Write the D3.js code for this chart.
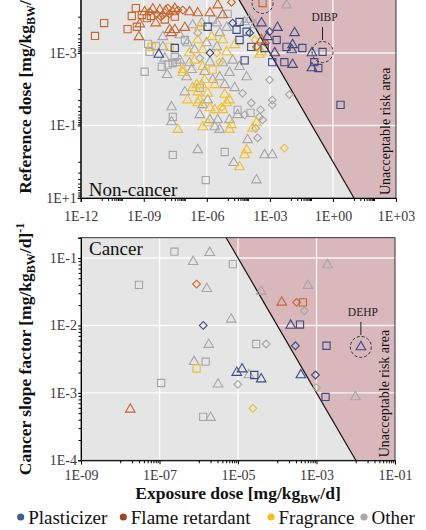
<!DOCTYPE html>
<html>
<head>
<meta charset="utf-8">
<script src="https://cdn.jsdelivr.net/npm/d3@7"></script>
<style>
  body { margin:0; background:#fff; }
  svg text { font-family:"Liberation Serif","Times New Roman",serif; }
  .tick text { fill:#3a3a3a; font-size:14px; }
  .axis path, .axis line { stroke:#000; }
</style>
</head>
<body>
<svg id="chart" width="426" height="530" font-family="Liberation Serif, Times New Roman, serif"></svg>
<script>
// ---- data ----
var groups = ["Plasticizer", "Flame retardant", "Fragrance", "Other"];

// non-cancer panel: [exposure dose, reference dose, marker]
var ncPlasticizer = [[5.2e-9,1.1e-3,"t"],[3.0e-8,7.3e-4,"s"],[1.1e-6,1.9e-4,"s"],[1.7e-5,1.5e-4,"d"],[3.6e-5,1.4e-4,"s"],
  [3.6e-5,4.4e-4,"s"],[1.1e-4,2.8e-4,"d"],[2.6e-5,2.3e-4,"s"],[7.8e-5,2.6e-4,"s"],[1.3e-4,6.8e-4,"s"],[6.3e-5,1.6e-3,"s"],
  [1.4e-6,1.0e-3,"d"],[4.0e-4,1.5e-4,"t"],[9.6e-4,2.6e-4,"d"],[2.3e-3,2.0e-4,"t"],[1.5e-2,2.8e-4,"t"],[2.1e-3,4.4e-4,"s"],
  [6.2e-3,6.8e-4,"s"],[1.1e-2,8.3e-4,"t"],[1.2e-2,6.0e-4,"t"],[3.5e-2,7.3e-4,"s"],[1.7e-3,1.0e-3,"t"],[1.3e-3,1.8e-3,"s"],
  [4.9e-3,1.8e-3,"s"],[1.2e-2,2.1e-3,"t"],[1.0e-1,1.0e-3,"t"],[1.3e-1,1.8e-3,"s"],[1.0e-1,2.6e-3,"t"],[2.0e-1,2.6e-3,"s"],
  [3.2e-1,9.4e-4,"s"],[2.3,2.7e-2,"s"],[5.6e-4,7.3e-4,"s"],[7.7e-4,3.6e-4,"t"]];
var ncFlame = [[4.8e-12,3.4e-4,"s"],[1.3e-11,1.5e-4,"s"],[1.7e-10,2.2e-4,"s"],[4.2e-10,5.8e-5,"s"],[2.7e-10,9.6e-5,"s"],
  [8.1e-10,9.0e-5,"s"],[4.7e-10,1.9e-4,"s"],[5.9e-10,3.6e-4,"t"],[1.1e-9,7.4e-5,"t"],[1.9e-9,7.4e-5,"d"],[2.7e-9,6.2e-5,"t"],
  [4.2e-9,8.4e-5,"d"],[5.8e-9,6.6e-5,"t"],[8.1e-9,9.0e-5,"d"],[1.1e-8,7.0e-5,"t"],[1.7e-8,8.4e-5,"d"],[2.4e-8,7.4e-5,"t"],
  [3.0e-8,1.0e-4,"s"],[4.2e-8,6.6e-5,"d"],[1.4e-8,5.8e-5,"d"],[3.7e-9,1.5e-4,"t"],[1.7e-8,2.3e-4,"t"],[7.2e-8,6.6e-5,"d"],
  [1.5e-7,7.4e-5,"t"],[3.7e-7,7.9e-5,"t"],[1.4e-6,7.9e-5,"t"],[3.3e-6,4.8e-5,"t"],[5.7e-6,9.0e-5,"t"],[1.5e-5,4.0e-5,"d"],
  [3.0e-8,2.3e-4,"t"],[9.0e-8,2.0e-4,"t"],[2.1e-8,2.8e-4,"t"],[4.0e-4,4.4e-4,"t"],[6.2e-4,5.3e-4,"d"],[4.5e-4,4.2e-5,"s"],
  [2.3e-4,6.8e-4,"d"],[1.4e-9,1.1e-4,"s"],[6.5e-10,1.6e-4,"t"],[1.0e-8,1.2e-4,"s"],[2.2e-9,9.6e-5,"s"],[6.5e-9,1.0e-4,"d"],
  [3.0e-8,6.0e-5,"t"]];
var ncFragrance = [[2.4e-9,6.8e-4,"s"],[1.7e-8,6.8e-4,"s"],[4.6e-7,1.9e-4,"t"],[3.7e-7,4.4e-4,"t"],[1.7e-6,3.6e-4,"t"],
  [5.7e-6,4.4e-4,"t"],[6.4e-7,8.3e-4,"t"],[1.5e-7,1.0e-3,"t"],[3.0e-6,1.0e-3,"d"],[8.8e-6,9.4e-4,"t"],[7.2e-8,2.9e-3,"t"],
  [1.9e-6,2.9e-3,"s"],[6.4e-7,2.4e-3,"t"],[2.6e-4,6.8e-4,"t"],[4.0e-4,9.4e-4,"t"],[1.9e-4,4.4e-4,"d"],[7.2e-8,3.5e-3,"t"],
  [3.3e-7,7.6e-3,"t"],[5.7e-7,7.6e-3,"t"],[2.1e-7,9.2e-3,"t"],[3.7e-7,1.2e-2,"t"],[7.9e-7,5.5e-3,"t"],[1.1e-6,1.3e-2,"t"],
  [3.7e-7,2.4e-2,"t"],[4.6e-7,2.0e-2,"t"],[1.4e-6,3.3e-2,"t"],[2.4e-6,3.7e-2,"t"],[5.7e-6,3.7e-2,"t"],[8.8e-6,2.4e-2,"t"],
  [1.2e-5,2.0e-2,"t"],[5.1e-6,3.1e-2,"d"],[6.4e-7,0.11,"t"],[1.1e-6,8.5e-2,"t"],[1.2e-5,0.13,"t"],[1.5e-5,9.6e-2,"t"],
  [4.2e-8,0.13,"t"],[2.3e-4,8.5e-2,"t"],[1.5e-4,0.12,"t"],[4.9e-3,0.42,"d"],[6.3e-5,0.65,"t"],[7.8e-5,0.47,"t"],
  [3.6e-5,1.4,"t"],[2.6e-7,1.6e-3,"t"],[4.1e-6,1.8e-3,"d"],[2.1e-5,6.0e-4,"t"],[2.4e-6,7.6e-3,"t"],[1.2e-7,2.0e-2,"t"],
  [7.1e-6,1.4e-2,"t"],[3.2e-4,1.1e-3,"t"]];
var ncOther = [[1.6e-9,5.6e-4,"s"],[3.7e-9,6.4e-4,"s"],[8.1e-9,3.6e-4,"t"],[8.1e-9,6.8e-4,"t"],[1.1e-9,3.3e-3,"s"],
  [7.2e-9,2.4e-3,"s"],[1.4e-8,2.1e-3,"s"],[3.7e-8,1.8e-3,"s"],[1.3e-8,4.0e-3,"t"],[2.1e-7,1.7e-4,"t"],[5.7e-7,1.5e-4,"t"],
  [3.0e-6,1.5e-4,"t"],[8.8e-6,2.0e-4,"t"],[1.2e-7,5.3e-4,"t"],[2.6e-7,8.3e-4,"t"],[9.8e-7,5.3e-4,"t"],[3.0e-6,6.8e-4,"t"],
  [5.2e-8,1.6e-3,"t"],[1.5e-7,1.9e-3,"t"],[4.6e-7,1.4e-3,"d"],[1.4e-6,1.8e-3,"t"],[5.7e-6,1.9e-3,"t"],[1.7e-5,1.6e-3,"t"],
  [3.6e-5,2.4e-3,"t"],[1.1e-7,4.6e-3,"t"],[4.1e-6,4.6e-3,"t"],[1.2e-5,3.5e-3,"t"],[7.8e-5,4.6e-3,"t"],[3.0e-8,1.3e-3,"s"],
  [2.4e-8,1.9e-3,"s"],[6.4e-7,2.7e-2,"t"],[1.1e-6,2.0e-2,"t"],[4.6e-7,5.1e-2,"t"],[1.4e-6,7.0e-2,"t"],[3.3e-6,7.0e-2,"t"],
  [2.4e-6,0.11,"t"],[4.1e-6,0.13,"t"],[1.2e-5,7.0e-2,"t"],[2.9e-5,5.1e-2,"t"],[2.9e-5,3.7e-2,"s"],[5.0e-5,1.3e-2,"d"],
  [2.1e-8,3.1e-2,"t"],[2.4e-8,5.8e-2,"s"],[2.1e-8,8.0e-2,"t"],[2.4e-8,0.65,"s"],[3.7e-7,0.47,"t"],[7.1e-6,0.54,"s"],
  [1.9e-5,1.07,"t"],[2.3e-4,3.2,"t"],[8.9e-7,3.2,"s"],[5.6e-4,0.65,"t"],[1.3e-3,0.65,"t"],[9.6e-4,5.5e-3,"d"],
  [8.5e-3,1.4e-2,"d"],[1.3e-3,2.0e-2,"d"],[3.6e-4,3.7e-2,"d"],[1.3e-3,2.7e-2,"d"],[6.3e-5,5.1e-2,"d"],[4.5e-4,7.0e-2,"d"],
  [2.1e-4,0.12,"d"],[2.6e-4,0.22,"d"],[1.2e-4,4.5e-2,"s"],[8.7e-5,0.25,"t"],[1.3e-4,2.4e-2,"d"],[3.2e-4,5.8e-2,"d"],
  [6.2e-3,4.8e-5,"t"],[5.2e-8,3.2e-4,"t"],[1.1e-4,1.2e-4,"t"],[1.9e-4,1.7e-4,"t"],[6.3e-5,1.4e-4,"t"],[9.0e-8,4.4e-4,"s"],
  [1.9e-9,9.4e-4,"s"],[1.0e-8,1.4e-3,"t"],[1.9e-6,1.2e-4,"s"],[9.8e-6,8.4e-5,"s"],[3.7e-7,2.8e-4,"d"],[4.1e-6,2.8e-4,"t"],
  [1.9e-7,2.9e-3,"t"],[7.9e-7,3.3e-3,"t"],[1.9e-6,5.5e-3,"t"],[7.1e-6,7.6e-3,"t"],[2.1e-5,9.2e-3,"t"],[4.6e-7,9.2e-3,"s"],
  [9.0e-8,1.2e-2,"t"]];

// cancer panel: [exposure dose, cancer slope factor, marker]
var cPlasticizer = [[1.3e-6,1.0e-2,"d"],[2.2e-4,1.0e-2,"t"],[3.8e-4,1.03e-2,"s"],[2.9e-4,5.0e-3,"d"],[1.8e-3,5.0e-3,"s"],
  [1.35e-2,4.8e-3,"t"],[9.3e-6,2.0e-3,"t"],[1.27e-5,2.25e-3,"t"],[2.6e-5,1.84e-3,"s"],[3.9e-5,1.6e-3,"t"],
  [4.0e-4,1.84e-3,"t"],[9.4e-4,1.84e-3,"d"],[1.7e-3,8.7e-4,"s"]];
var cFlame = [[8.8e-7,4.1e-2,"d"],[1.8e-8,5.7e-4,"t"],[1.3e-4,2.2e-2,"t"],[3.1e-4,2.2e-2,"d"],[4.5e-4,2.2e-2,"s"]];
var cFragrance = [[8.8e-7,2.3e-3,"s"],[2.4e-5,5.9e-4,"d"]];
var cOther = [[2.4e-7,0.124,"s"],[7.2e-7,8.8e-2,"t"],[1.9e-6,0.12,"t"],[3.0e-8,4.0e-2,"s"],[1.6e-6,3.5e-2,"t"],
  [1.8e-6,5.2e-3,"t"],[7.6e-7,2.9e-3,"t"],[1.5e-6,2.9e-3,"s"],[1.1e-7,1.4e-3,"s"],[1.3e-6,4.4e-4,"s"],[2.0e-6,4.3e-4,"t"],
  [7.4e-6,8.1e-2,"s"],[1.9e-3,7.9e-2,"t"],[6.0e-4,3.9e-2,"t"],[3.9e-5,3.2e-2,"t"],[4.9e-4,1.65e-2,"d"],[6.7e-6,1.23e-2,"t"],
  [2.9e-5,5.3e-3,"s"],[5.2e-5,5.3e-3,"d"],[1.9e-5,1.84e-3,"t"],[9.9e-6,1.34e-3,"d"],[3.1e-6,1.34e-3,"t"],[1.0e-3,1.2e-3,"d"],
  [9.8e-3,8.7e-4,"t"]];

// highlighted compounds: [name, exposure, y value]
var ncCallouts = [["DIBP", 3.2e-1, 9.4e-4], ["", 4.5e-4, 4.2e-5]];
var cCallouts = [["DEHP", 1.35e-2, 4.8e-3]];

// tick exponents
var ncXTicks = [-12, -9, -6, -3, 0, 3];
var ncYTicks = [-5, -3, -1, 1];
var cXTicks = [-9, -7, -5, -3, -1];
var cYTicks = [-1, -2, -3, -4];

// acceptability thresholds: hazard quotient = 1, cancer risk = 1e-6
var hqLimit = 1;
var riskLimit = 1e-6;

// ---- styles ----
var colors = { "Plasticizer":"#3d4a84", "Flame retardant":"#c8652c", "Fragrance":"#f0c02a", "Other":"#a6a6a6" };
var legendColors = { "Plasticizer":"#3b5f8e", "Flame retardant":"#9a4822", "Fragrance":"#f2c21c", "Other":"#a8a8a8" };
var bg = "#e5e5e5", riskFill = "#d9b8bc";

var svg = d3.select("#chart");

var fmtPad = function(e) { return "1E" + (e < 0 ? "-" : "+") + String(Math.abs(e)).padStart(2, "0"); };
var fmtShort = function(e) { return "1E" + (e < 0 ? "-" : "+") + Math.abs(e); };

// minor ticks k*10^(n+1) within each major interval
var minorsFrom = function(majors, ks) {
  var out = [];
  majors.forEach(function(n) { ks.forEach(function(k) { out.push(k * Math.pow(10, n + 1)); }); });
  return out;
};

var markerPath = function(shape) {
  if (shape == "s") return d3.symbol().type(d3.symbolSquare).size(52)();
  if (shape == "t") return d3.symbol().type(d3.symbolTriangle).size(40)();
  return d3.symbol().type(d3.symbolSquare).size(30)(); // diamond = rotated square
};

var drawPanel = function(cfg) {
  var x = cfg.x, y = cfg.y;
  var x0 = x.range()[0], x1 = x.range()[1], y0 = d3.min(y.range()), y1 = d3.max(y.range());
  var g = svg.append("g");

  g.append("rect").attr("x", x0).attr("y", y0).attr("width", x1 - x0).attr("height", y1 - y0).attr("fill", bg);

  // unacceptable area: right of the threshold line
  var yd = y.domain(), xMax = x.domain()[1];
  var pts = [[cfg.limitX(yd[0]), yd[0]], [cfg.limitX(yd[1]), yd[1]], [xMax, yd[1]], [xMax, yd[0]]];
  g.append("path")
    .attr("d", d3.line().x(function(d) { return x(d[0]); }).y(function(d) { return y(d[1]); })(pts) + "Z")
    .attr("fill", riskFill);

  // grid
  g.selectAll(".vgrid").data(cfg.xTicks.slice(1, -1)).enter().append("line")
    .attr("x1", function(d) { return x(Math.pow(10, d)); }).attr("x2", function(d) { return x(Math.pow(10, d)); })
    .attr("y1", y0).attr("y2", y1).attr("stroke", "#fff").attr("stroke-opacity", 0.85).attr("stroke-width", 1.4);
  g.selectAll(".hgrid").data(cfg.yTicks).enter().append("line")
    .attr("x1", x0).attr("x2", x1)
    .attr("y1", function(d) { return y(Math.pow(10, d)); }).attr("y2", function(d) { return y(Math.pow(10, d)); })
    .attr("stroke", "#fff").attr("stroke-opacity", 0.85).attr("stroke-width", 1.4);

  // threshold line
  g.append("line")
    .attr("x1", x(pts[0][0])).attr("y1", y(pts[0][1])).attr("x2", x(pts[1][0])).attr("y2", y(pts[1][1]))
    .attr("stroke", "#111").attr("stroke-width", 1.2);

  // points
  cfg.series.forEach(function(s) {
    g.selectAll(null).data(s.data).enter().append("path")
      .attr("d", function(d) { return markerPath(d[2]); })
      .attr("transform", function(d) {
        return "translate(" + x(d[0]) + "," + y(d[1]) + ")" + (d[2] == "d" ? " rotate(45)" : "");
      })
      .attr("fill", "none").attr("stroke", colors[s.group]).attr("stroke-width", 1.1);
  });

  // callouts
  cfg.callouts.forEach(function(c) {
    var cx = x(c[1]), cy = y(c[2]);
    g.append("circle").attr("cx", cx).attr("cy", cy).attr("r", 10.5)
      .attr("fill", "none").attr("stroke", "#333").attr("stroke-width", 1).attr("stroke-dasharray", "3,2");
    if (c[0]) {
      g.append("line").attr("x1", cx).attr("x2", cx).attr("y1", cy - 25).attr("y2", cy - 12)
        .attr("stroke", "#222").attr("stroke-width", 1);
      g.append("text").attr("x", cx + 2).attr("y", cy - 31).attr("text-anchor", "middle")
        .attr("font-size", "11.5px").attr("fill", "#222").text(c[0]);
    }
  });

  // panel label & risk area label
  g.append("text").attr("x", x0 + 8).attr("y", cfg.labelY).attr("font-size", "19px").attr("fill", "#111").text(cfg.label);
  g.append("text").attr("transform", "translate(" + (x1 - 6) + "," + (y1 - 3) + ") rotate(-90)")
    .attr("font-size", "14px").attr("fill", "#111").text("Unacceptable risk area");

  // border
  g.append("rect").attr("x", x0).attr("y", y0).attr("width", x1 - x0).attr("height", y1 - y0)
    .attr("fill", "none").attr("stroke", "#222").attr("stroke-width", 0.9);

  // axes
  var xa = g.append("g").attr("class", "axis").attr("transform", "translate(0," + y1 + ")");
  xa.call(d3.axisBottom(x).tickValues(cfg.xTicks.map(function(e) { return Math.pow(10, e); }))
    .tickFormat(function(d, i) { return fmtPad(cfg.xTicks[i]); }).tickSize(4).tickPadding(cfg.xPad));
  g.append("g").attr("class", "axis").attr("transform", "translate(0," + y1 + ")")
    .call(d3.axisBottom(x).tickValues(minorsFrom(cfg.xTicks.slice(0, -1), [1,2,3,4,5,6,7,8,9])).tickFormat("").tickSize(3))
    .select(".domain").remove();
  var ya = g.append("g").attr("class", "axis").attr("transform", "translate(" + x0 + ",0)");
  ya.call(d3.axisLeft(y).tickValues(cfg.yTicks.map(function(e) { return Math.pow(10, e); }))
    .tickFormat(function(d, i) { return fmtShort(cfg.yTicks[i]); }).tickSize(3).tickPadding(1));
  // drop tick labels that fall above the visible page
  ya.selectAll(".tick").filter(function(d) { return y(d) < 0; }).select("text").remove();
  g.append("g").attr("class", "axis").attr("transform", "translate(" + x0 + ",0)")
    .call(d3.axisLeft(y).tickValues(cfg.yMinor).tickFormat("").tickSize(2.5))
    .select(".domain").remove();
  g.selectAll(".tick text").attr("font-size", "14px");

  // y title
  var t = g.append("text").attr("transform", "translate(31," + ((y0 + y1) / 2) + ") rotate(-90)")
    .attr("text-anchor", "middle").attr("font-size", "17.5px").attr("font-weight", "bold").attr("fill", "#111");
  t.append("tspan").text(cfg.yTitle);
  t.append("tspan").attr("font-size", "12px").attr("dy", 4).text("BW");
  t.append("tspan").attr("dy", -4).text("/d]");
  if (cfg.yPow) t.append("tspan").attr("font-size", "12px").attr("dy", -7).text(cfg.yPow);
};

// ---- non-cancer panel ----
var xTop = d3.scaleLog().domain([1e-12, 1e3]).range([80.7, 396]);
var yTop = d3.scaleLog().domain([1e-5, 1e1]).range([-19.6, 198]);
drawPanel({
  x: xTop, y: yTop, xTicks: ncXTicks, yTicks: ncYTicks,
  yMinor: minorsFrom(ncYTicks.slice(0, -1), [1,2,3,4,5,6,7,8,9]),
  limitX: function(v) { return v * hqLimit; },
  series: [{group:"Other", data:ncOther}, {group:"Fragrance", data:ncFragrance},
           {group:"Flame retardant", data:ncFlame}, {group:"Plasticizer", data:ncPlasticizer}],
  callouts: ncCallouts, label: "Non-cancer", labelY: 196, xPad: 9,
  yTitle: "Reference dose [mg/kg"
});

// ---- cancer panel ----
var xBot = d3.scaleLog().domain([1e-9, 1e-1]).range([81, 395]);
var yBot = d3.scaleLog().domain([0.2, 1e-4]).range([237.7, 460.3]);
var cYMinor = [];
[-2, -3, -4].forEach(function(n) { [2,3,4,5,6,7,8,9].forEach(function(k) { cYMinor.push(k * Math.pow(10, n)); }); });
cYMinor.push(0.2);
drawPanel({
  x: xBot, y: yBot, xTicks: cXTicks, yTicks: cYTicks, yMinor: cYMinor,
  limitX: function(v) { return riskLimit / v; },
  series: [{group:"Other", data:cOther}, {group:"Fragrance", data:cFragrance},
           {group:"Flame retardant", data:cFlame}, {group:"Plasticizer", data:cPlasticizer}],
  callouts: cCallouts, label: "Cancer", labelY: 255, xPad: 6,
  yTitle: "Cancer slope factor [mg/kg", yPow: "-1"
});

// x title
var xt = svg.append("text").attr("x", 238).attr("y", 499).attr("text-anchor", "middle")
  .attr("font-size", "17.5px").attr("font-weight", "bold").attr("fill", "#111");
xt.append("tspan").text("Exposure dose [mg/kg");
xt.append("tspan").attr("font-size", "12px").attr("dy", 4).text("BW");
xt.append("tspan").attr("dy", -4).text("/d]");

// legend
var legendX = [20.7, 123.3, 271, 364];
var lg = svg.append("g").selectAll("g").data(groups).enter().append("g")
  .attr("transform", function(d, i) { return "translate(" + legendX[i] + ",517)"; });
lg.append("circle").attr("r", 3.6).attr("fill", function(d) { return legendColors[d]; });
lg.append("text").attr("x", 7.5).attr("y", 6.5).attr("font-size", "19px").attr("fill", "#111")
  .attr("font-family", "Liberation Serif, serif").text(function(d) { return d; });
</script>
</body>
</html>
